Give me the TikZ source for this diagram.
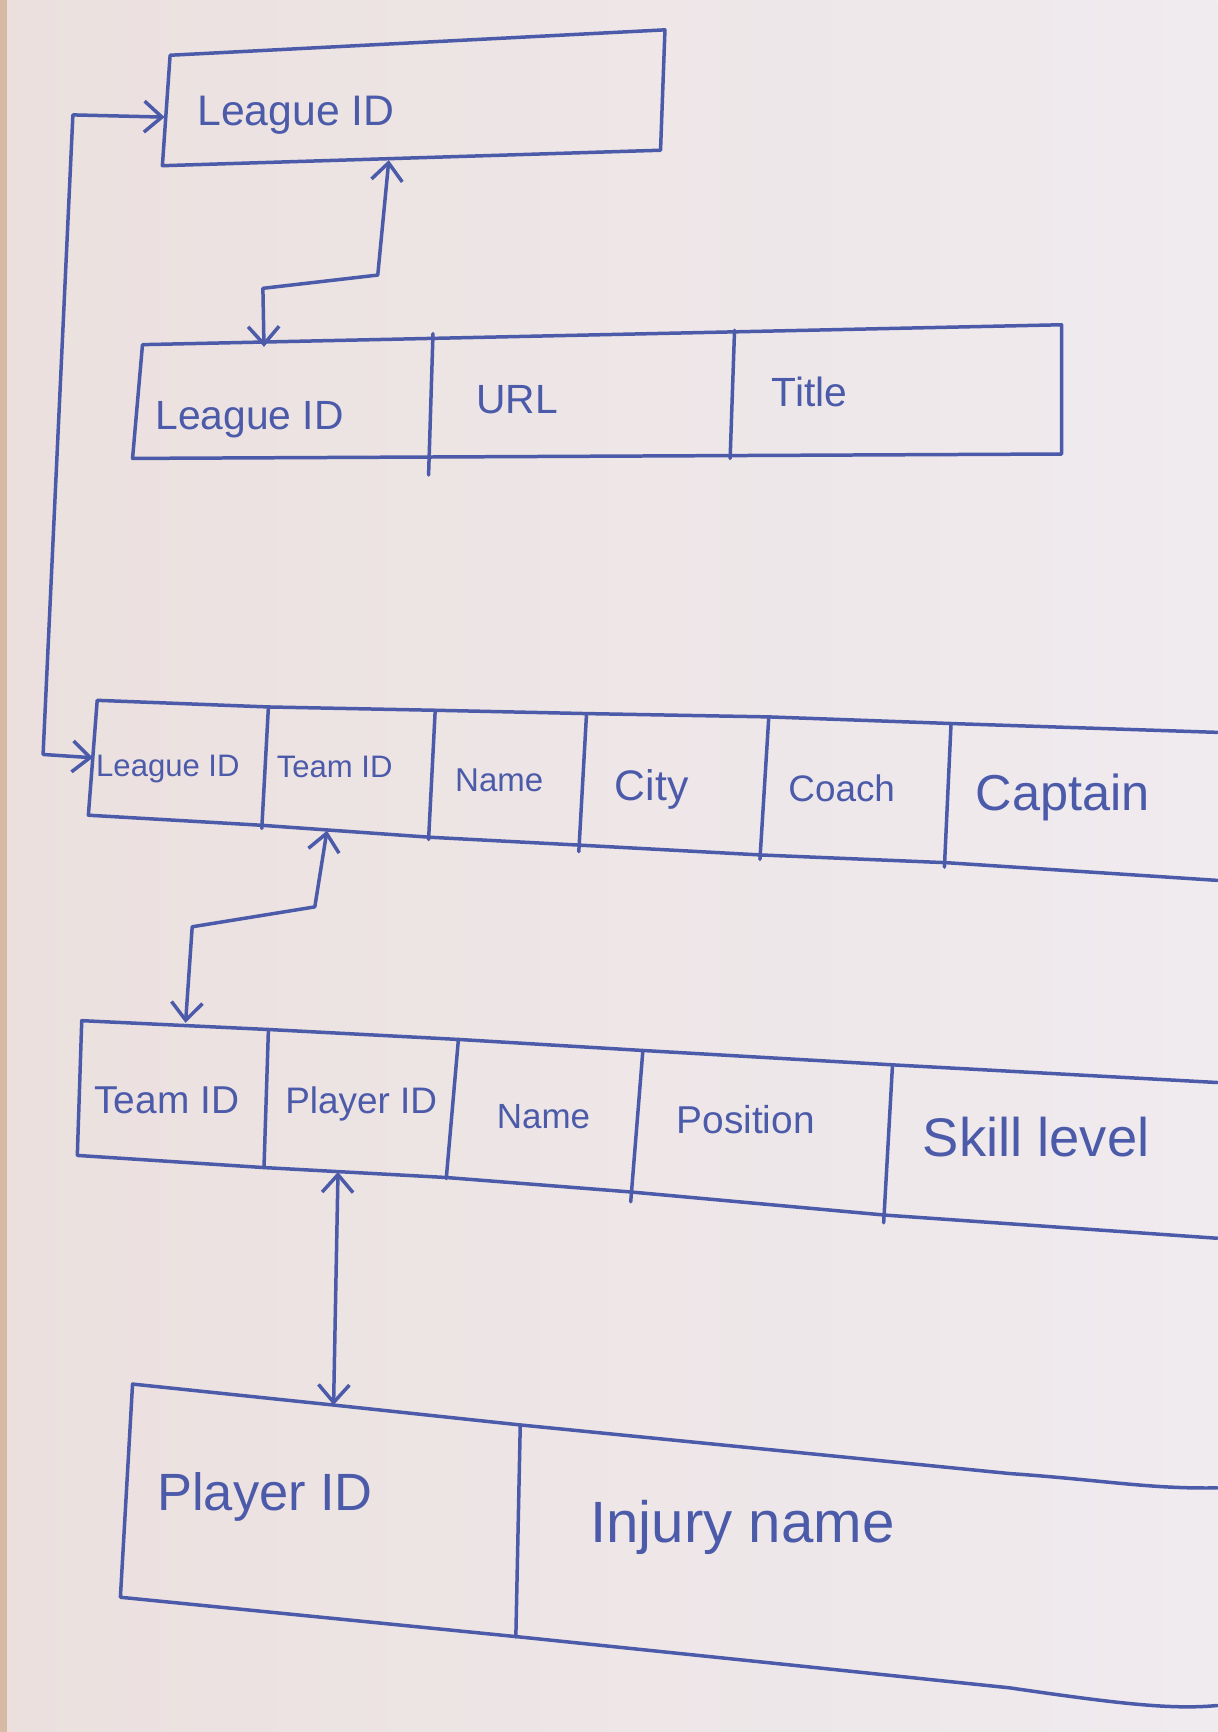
\documentclass[tikz,border=0pt]{standalone}
\usepackage{xcolor}
\usepackage{fontspec}
\setmainfont{Liberation Sans}
\usetikzlibrary{arrows.meta}

\definecolor{ink}{RGB}{76,90,170}
\definecolor{paperL}{RGB}{235,224,222}
\definecolor{paperR}{RGB}{240,235,239}
\definecolor{desk}{RGB}{214,186,164}

\begin{document}
\begin{tikzpicture}[x=0.01cm,y=-0.01cm,>={Straight Barb[length=1.6mm,width=2.8mm]},line width=0.9pt]
        \tikzstyle{field}=[text=ink,inner sep=0pt,font=\fontsize{10.5}{12}\selectfont]
        \tikzstyle{ruling}=[draw=ink,line join=round,line cap=round]
        \tikzstyle{link}=[draw=ink,<->,line join=round]
        \useasboundingbox (0,0) rectangle (1102,1568);
        \shade[left color=paperL,right color=paperR] (0,0) rectangle (1102,1568);
        \fill[desk] (0,0) rectangle (6,1568);

        % league key
        \begin{scope}
        \draw[ruling] (154,50) -- (602,27) -- (598,136) -- (147,150) -- cycle;
        \node[field,font=\fontsize{11}{13}\selectfont](leagueKey) at (268,104) {League ID};
        \coordinate (leagueKey-w) at (149,106);
        \coordinate (leagueKey-s) at (352,145);
        \end{scope}

        % league table
        \begin{scope}
        \draw[ruling] (129,312) -- (961,294) -- (961,411) -- (120,415) -- cycle;
        \draw[ruling] (392,302) -- (388,430);
        \draw[ruling] (665,299) -- (661,415);
        \node[field](lgLeague) at (226,380) {League ID};
        \node[field](lgUrl)    at (468,362) {URL};
        \node[field](lgTitle)  at (733,355) {Title};
        \coordinate (lgLeague-n) at (239,314);
        \end{scope}

        % team table
        \begin{scope}
        \draw[ruling] (1102,663) -- (861,655) -- (696,649) -- (531,646) -- (394,643) -- (243,640) -- (88,634)
            -- (80,738) -- (235,747) -- (390,758) -- (523,765) -- (689,774) -- (857,781) -- (1102,797);
        \draw[ruling] (243,640) -- (237,750);
        \draw[ruling] (394,643) -- (388,760);
        \draw[ruling] (531,646) -- (524,771);
        \draw[ruling] (696,649) -- (688,778);
        \draw[ruling] (861,655) -- (855,785);
        \node[field,font=\fontsize{8}{10}\selectfont]   (tmLeague)  at (152,696) {League ID};
        \node[field,font=\fontsize{8}{10}\selectfont]   (tmTeam)    at (303,694) {Team ID};
        \node[field,font=\fontsize{8.5}{10}\selectfont] (tmName)    at (452,706) {Name};
        \node[field,font=\fontsize{11}{13}\selectfont]  (tmCity)    at (590,715) {City};
        \node[field,font=\fontsize{9.5}{11}\selectfont] (tmCoach)   at (762,714) {Coach};
        \node[field,font=\fontsize{13}{15}\selectfont]  (tmCaptain) at (962,722) {Captain};
        \coordinate (tmLeague-w) at (84,686);
        \coordinate (tmTeam-s)   at (296,752);
        \end{scope}

        % player table
        \begin{scope}
        \draw[ruling] (1102,980) -- (808,964) -- (582,951) -- (415,941) -- (243,932) -- (74,924)
            -- (70,1046) -- (239,1057) -- (404,1066) -- (570,1079) -- (801,1100) -- (1102,1121);
        \draw[ruling] (243,932) -- (239,1057);
        \draw[ruling] (415,941) -- (404,1067);
        \draw[ruling] (582,951) -- (571,1088);
        \draw[ruling] (808,964) -- (800,1107);
        \node[field,font=\fontsize{10}{12}\selectfont]  (plTeam)     at (151,996)  {Team ID};
        \node[field,font=\fontsize{9.5}{11}\selectfont] (plPlayer)   at (327,999)  {Player ID};
        \node[field,font=\fontsize{9}{11}\selectfont]   (plName)     at (492,1011) {Name};
        \node[field,font=\fontsize{10}{12}\selectfont]  (plPosition) at (675,1014) {Position};
        \node[field,font=\fontsize{14}{16}\selectfont]  (plSkill)    at (938,1029) {Skill level};
        \coordinate (plTeam-n)   at (168,926);
        \coordinate (plPlayer-s) at (306,1061);
        \end{scope}

        % injury table
        \begin{scope}
        \draw[ruling] (1102,1347) .. controls (1040,1348) and (1000,1340) .. (914,1334) -- (703,1313) -- (471,1290) -- (302,1272) -- (120,1253)
            -- (109,1446) -- (471,1482) -- (703,1506) -- (914,1528) .. controls (1010,1542) and (1060,1548) .. (1102,1544);
        \draw[ruling] (471,1290) -- (467,1482);
        \node[field,font=\fontsize{13.5}{16}\selectfont] (injPlayer) at (240,1355) {Player ID};
        \node[field,font=\fontsize{15}{18}\selectfont]   (injName)   at (672,1383) {Injury name};
        \coordinate (injPlayer-n) at (302,1272);
        \end{scope}

        % keys
        \draw[link] (leagueKey-w) -- (66,104) -- (39,683) -- (tmLeague-w);
        \draw[link] (leagueKey-s) -- (342,249) -- (238,261) -- (lgLeague-n);
        \draw[link] (tmTeam-s) -- (285,821) -- (174,839) -- (plTeam-n);
        \draw[link] (plPlayer-s) -- (injPlayer-n);
\end{tikzpicture}
\end{document}
